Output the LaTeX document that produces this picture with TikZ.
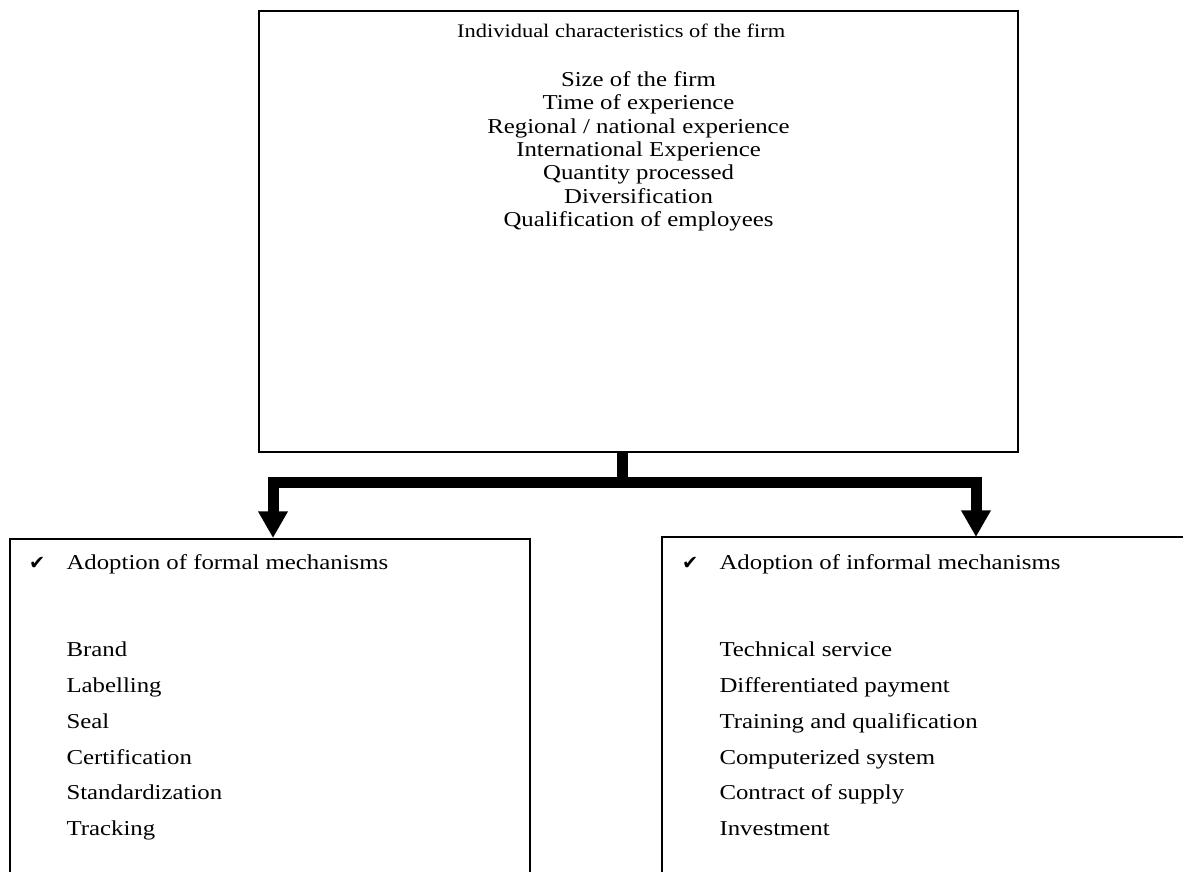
\documentclass[tikz,border=0pt]{standalone}
\usepackage{fontspec}
\setmainfont[FakeStretch=1.17]{Liberation Serif}
\newfontfamily\symfont{DejaVu Sans}
\usepackage{tikz}
\usetikzlibrary{positioning,arrows.meta}

\newcommand{\tick}{\llap{{\symfont\fontsize{14.5}{14.5}\selectfont ✔}\hspace{16pt}}}

\begin{document}
\begin{tikzpicture}[x=0.75pt, y=-0.75pt,
  every node/.style={font=\fontsize{15.9}{17.5}\selectfont},
  panel/.style={rectangle, draw=black, line width=1.1pt, inner sep=0pt},
  traits/.style={align=center, inner sep=0pt},
  items/.style={align=left, inner sep=0pt, font=\fontsize{15.9}{26.85}\selectfont},
  fork/.style={line width=8.25pt, line join=miter, -{Triangle[width=21pt, length=20pt]}}
]
  \clip (0,0) rectangle (1183,872);
  \node[panel, minimum width=569.25pt, minimum height=330.75pt] (firm) at (638.5,231.5) {};
  \node[panel, minimum width=390pt, minimum height=285.75pt] (formal) at (270,729.5) {};
  \node[panel, minimum width=426pt, minimum height=287.25pt] (informal) at (946,728.5) {};
  \node[traits, font=\fontsize{14.4}{17.5}\selectfont, below=10pt of firm.north, xshift=-13pt] (title)
    {Individual characteristics of the firm};
  \node[traits, below=45.9pt of firm.north] (charac) {Size of the firm\\ Time of experience\\
    Regional / national experience\\ International Experience\\ Quantity processed\\
    Diversification\\ Qualification of employees};
  \node[items, below right=12.2pt and 42.75pt of formal.north west] (formlist)
    {\tick Adoption of formal mechanisms\\[38.4pt]
    Brand\\ Labelling\\ Seal\\ Certification\\ Standardization\\ Tracking};
  \node[items, below right=13.7pt and 43.5pt of informal.north west] (informlist)
    {\tick Adoption of informal mechanisms\\[38.4pt]
    Technical service\\ Differentiated payment\\ Training and qualification\\
    Computerized system\\ Contract of supply\\ Investment};
  \coordinate (split) at (622,482.5);
  \coordinate (lefttip) at (273,538);
  \coordinate (righttip) at (976,537);
  \draw[fork] (firm.south -| split) -- (split) -| (lefttip);
  \draw[fork] (firm.south -| split) -- (split) -| (righttip);
\end{tikzpicture}
\end{document}
